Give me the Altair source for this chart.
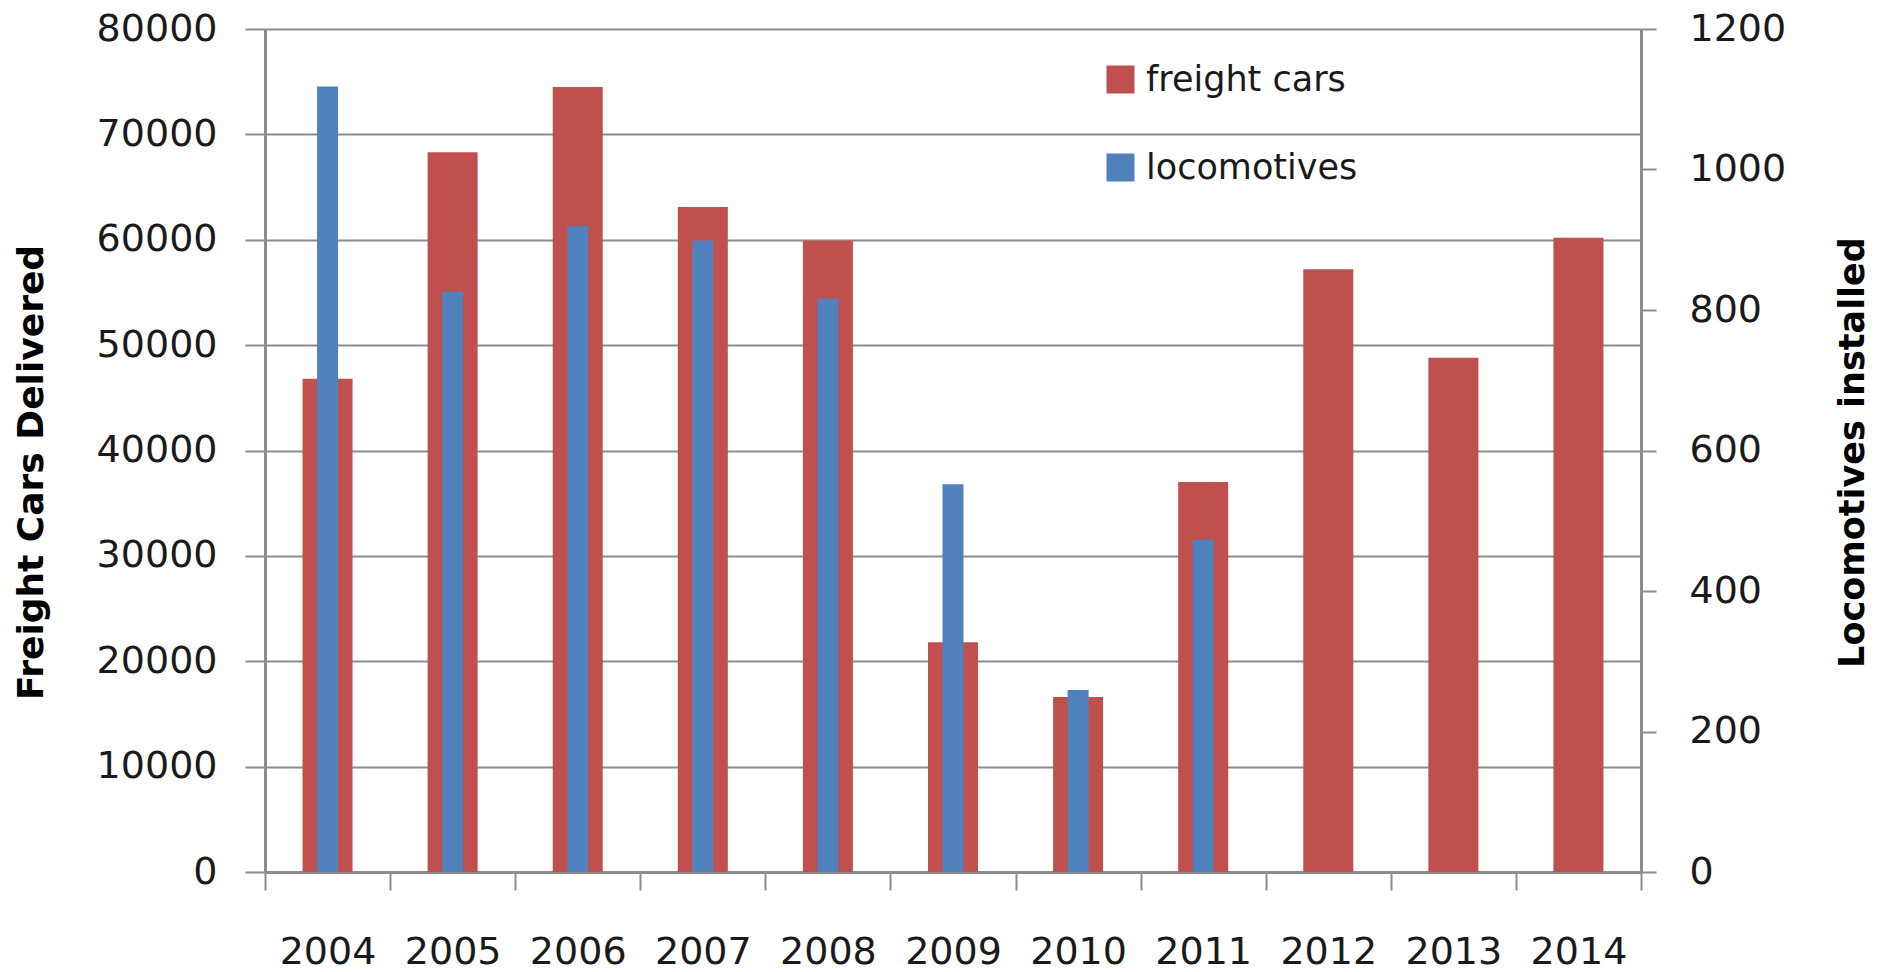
import altair as alt
import pandas as pd

years = ["2004", "2005", "2006", "2007", "2008", "2009", "2010", "2011", "2012", "2013", "2014"]
freight_cars = [46800, 68300, 74500, 63100, 59900, 21800, 16600, 37000, 57200, 48800, 60200]
loco_years = ["2004", "2005", "2006", "2007", "2008", "2009", "2010", "2011"]
locomotives = [1118, 826, 920, 899, 816, 552, 259, 473]
series_names = ["freight cars", "locomotives"]
series_colors = ["#C0504D", "#4F81BD"]
left_ticks = [0, 10000, 20000, 30000, 40000, 50000, 60000, 70000, 80000]
right_ticks = [0, 200, 400, 600, 800, 1000, 1200]

df_f = pd.DataFrame({"year": years, "value": freight_cars, "series": series_names[0]})
df_l = pd.DataFrame({"year": loco_years, "value": locomotives, "series": series_names[1]})

GRAY = "#8c8c8c"
TXT = "#1a1a1a"
FONT = "DejaVu Sans"

x_enc = alt.X(
    "year:O",
    sort=years,
    scale=alt.Scale(domain=years, paddingInner=0, paddingOuter=0),
    axis=alt.Axis(
        title=None, labelAngle=0, tickBand="extent", tickSize=18, tickWidth=2,
        tickColor=GRAY, domainColor=GRAY, domainWidth=3, labelPadding=43,
        labelFont=FONT, labelFontSize=38, labelColor=TXT, grid=False,
    ),
)

color_enc = alt.Color(
    "series:N",
    scale=alt.Scale(domain=series_names, range=series_colors),
    legend=alt.Legend(
        title=None, orient="none", legendX=838, legendY=33, symbolType="square",
        symbolSize=784, symbolStrokeWidth=0, labelFont=FONT, labelFontSize=35,
        labelColor=TXT, labelOffset=8, labelLimit=0, rowPadding=52, padding=0,
    ),
)

red = alt.Chart(df_f).mark_bar(size=50).encode(
    x=x_enc,
    y=alt.Y(
        "value:Q",
        scale=alt.Scale(domain=[0, 80000], nice=False),
        axis=alt.Axis(
            values=left_ticks, format="d", tickSize=20, tickWidth=2, tickColor=GRAY,
            domainColor=GRAY, domainWidth=3, labelPadding=28, labelFont=FONT,
            labelFontSize=38, labelColor=TXT, grid=True, gridColor=GRAY, gridWidth=2,
            title="Freight Cars  Delivered", titleFont=FONT, titleFontSize=36,
            titleFontWeight="bold", titleColor="#000", titleAngle=270, titleX=-234,
            titleY=443, titleBaseline="middle", titleAlign="center",
        ),
    ),
    color=color_enc,
)

blue = alt.Chart(df_l).mark_bar(size=21).encode(
    x=x_enc,
    y=alt.Y(
        "value:Q",
        scale=alt.Scale(domain=[0, 1200], nice=False),
        axis=alt.Axis(
            orient="right", values=right_ticks, format="d", tickSize=15, tickWidth=2,
            tickColor=GRAY, domainColor=GRAY, domainWidth=3, labelPadding=33,
            labelFont=FONT, labelFontSize=38, labelColor=TXT, grid=False,
            title="Locomotives installed", titleFont=FONT, titleFontSize=35,
            titleFontWeight="bold", titleColor="#000", titleAngle=270, titleX=211,
            titleY=423, titleBaseline="middle", titleAlign="center",
        ),
    ),
    color=color_enc,
)

chart = (
    alt.layer(red, blue)
    .resolve_scale(y="independent")
    .properties(
        width=1376, height=843,
        autosize=alt.AutoSizeParams(type="none"),
        padding={"left": 265, "top": 29, "right": 238, "bottom": 100},
        background="white",
    )
    .configure_view(strokeWidth=0)
)

chart.save("out.html", embed_options={"renderer": "svg", "actions": False})
